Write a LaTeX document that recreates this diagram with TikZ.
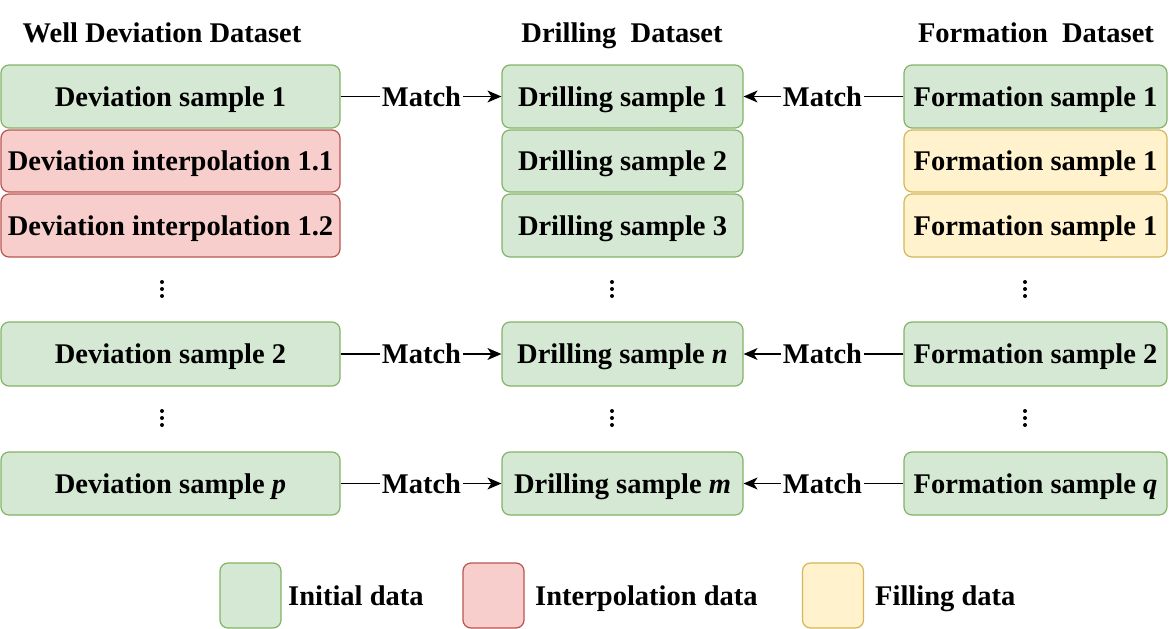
\documentclass[tikz,border=0pt]{standalone}
\usepackage{fontspec}
\setmainfont{Liberation Serif}
\usetikzlibrary{arrows.meta}
\definecolor{gfill}{HTML}{D5E8D4}
\definecolor{gline}{HTML}{82B366}
\definecolor{rfill}{HTML}{F8CECC}
\definecolor{rline}{HTML}{B85450}
\definecolor{yfill}{HTML}{FFF2CC}
\definecolor{yline}{HTML}{D6B656}
\newcommand{\bigbf}{\fontsize{28.5}{32}\selectfont\bfseries}
\begin{document}
\begin{tikzpicture}[x=1pt,y=-1pt,
  every node/.style={font=\bigbf},
  card/.style={rounded corners=8pt, line width=1.2pt, inner sep=0pt,
    text height=19pt, text depth=0pt, align=center},
  gbox/.style={card, draw=gline, fill=gfill},
  rbox/.style={card, draw=rline, fill=rfill},
  ybox/.style={card, draw=yline, fill=yfill},
  lcol/.style={minimum width=339pt},
  mcol/.style={minimum width=241pt},
  rcol/.style={minimum width=263pt},
  r1/.style={minimum height=63pt},
  hdr/.style={text height=19pt, text depth=0pt},
  matchlbl/.style={inner sep=2pt, text height=19pt, text depth=0pt},
  conn/.style={line width=1.3pt},
  arr/.style={conn, -{Stealth[length=14pt,width=12pt,inset=4pt]}},
  legbox/.style={card, minimum width=61pt, minimum height=65pt},
  legtxt/.style={anchor=west, inner sep=0pt, text height=19pt, text depth=0pt},
  dot/.style={fill=black}
]
\useasboundingbox (0,0) rectangle (1170,629);

% headers
\node[hdr] (h1) at (162,33) {Well Deviation Dataset};
\node[hdr] (h2) at (622,33) {Drilling\hspace{0.5em}Dataset};
\node[hdr] (h3) at (1036,33) {Formation\hspace{0.5em}Dataset};

% left column
\node[gbox,lcol,r1] (dev1) at (170.5,96.5) {Deviation sample 1};
\node[rbox,lcol,minimum height=62pt] (int11) at (170.5,161) {Deviation interpolation 1.1};
\node[rbox,lcol,minimum height=63pt] (int12) at (170.5,225.5) {Deviation interpolation 1.2};
\node[gbox,lcol,minimum height=64pt] (dev2) at (170.5,354) {Deviation sample 2};
\node[gbox,lcol,r1] (devp) at (170.5,483.5) {Deviation sample \textit{p}};

% middle column
\node[gbox,mcol,r1] (dr1) at (622.5,96.5) {Drilling sample 1};
\node[gbox,mcol,minimum height=62pt] (dr2) at (622.5,161) {Drilling sample 2};
\node[gbox,mcol,r1] (dr3) at (622.5,225.5) {Drilling sample 3};
\node[gbox,mcol,minimum height=64pt] (drn) at (622.5,354) {Drilling sample \textit{n}};
\node[gbox,mcol,r1] (drm) at (622.5,483.5) {Drilling sample \textit{m}};

% right column
\node[gbox,rcol,r1] (fo1) at (1035.5,96.5) {Formation sample 1};
\node[ybox,rcol,minimum height=62pt] (fo1b) at (1035.5,161) {Formation sample 1};
\node[ybox,rcol,r1] (fo1c) at (1035.5,225.5) {Formation sample 1};
\node[gbox,rcol,minimum height=64pt] (fo2) at (1035.5,354) {Formation sample 2};
\node[gbox,rcol,r1] (foq) at (1035.5,483.5) {Formation sample \textit{q}};

% vertical dots
\foreach \x in {162,612,1025}{
  \foreach \y in {282,289,296,411,418,425}{
    \fill[dot] (\x,\y) circle (2pt);
  }
}

% match labels
\node[matchlbl] (ml1) at (421.5,96.5) {Match};
\node[matchlbl] (ml2) at (421.5,354) {Match};
\node[matchlbl] (ml3) at (421.5,483.5) {Match};
\node[matchlbl] (mr1) at (822.5,96.5) {Match};
\node[matchlbl] (mr2) at (822.5,354) {Match};
\node[matchlbl] (mr3) at (822.5,483.5) {Match};

\draw[conn] (dev1) -- (ml1);  \draw[arr] (ml1) -- (dr1);
\draw[conn] (dev2) -- (ml2);  \draw[arr] (ml2) -- (drn);
\draw[conn] (devp) -- (ml3);  \draw[arr] (ml3) -- (drm);
\draw[conn] (fo1) -- (mr1);   \draw[arr] (mr1) -- (dr1);
\draw[conn] (fo2) -- (mr2);   \draw[arr] (mr2) -- (drn);
\draw[conn] (foq) -- (mr3);   \draw[arr] (mr3) -- (drm);

% legend
\node[legbox,draw=gline,fill=gfill] (lg) at (250.5,595.5) {};
\node[legtxt] (lgt) at (288,595.5) {Initial data};
\node[legbox,draw=rline,fill=rfill] (lr) at (493.5,595.5) {};
\node[legtxt] (lrt) at (535,595.5) {Interpolation data};
\node[legbox,draw=yline,fill=yfill] (ly) at (833,595.5) {};
\node[legtxt] (lyt) at (875,595.5) {Filling data};
\end{tikzpicture}
\end{document}
